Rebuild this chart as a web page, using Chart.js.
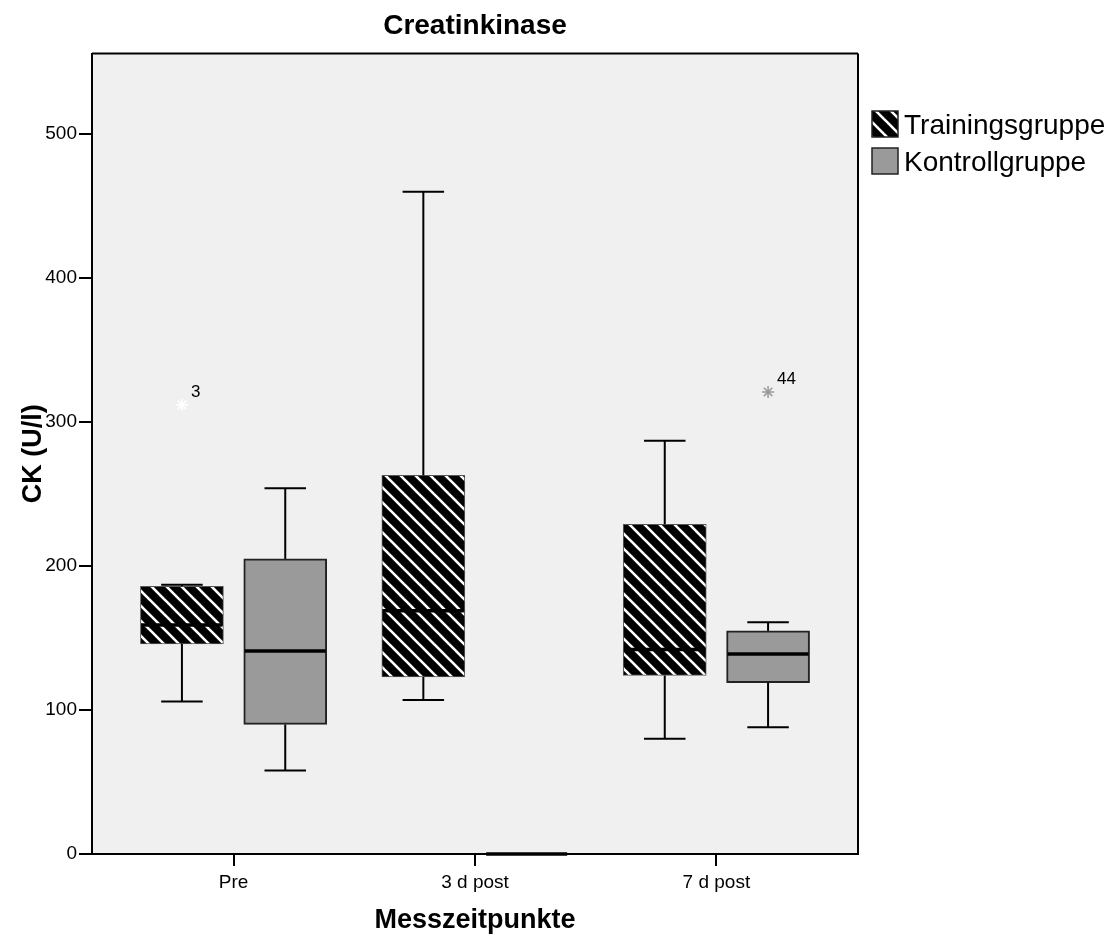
<!DOCTYPE html>
<html>
<head>
<meta charset="utf-8">
<title>Creatinkinase</title>
<script src="https://cdn.jsdelivr.net/npm/chart.js@4.4.1/dist/chart.umd.min.js"></script>
<style>
  html, body { margin: 0; padding: 0; background: #fff; }
  #wrap { width: 1115px; height: 937px; position: relative; }
</style>
</head>
<body>
<div id="wrap"><canvas id="myChart"></canvas></div>
<script>
const categories = ["Pre", "3 d post", "7 d post"];
const groupNames = ["Trainingsgruppe", "Kontrollgruppe"];
const yTicks = [0, 100, 200, 300, 400, 500];

// Trainingsgruppe (min, Q1, median, Q3, max per Messzeitpunkt)
const trainMin = [106, 107, 80];
const trainQ1 = [146, 123, 124];
const trainMedian = [159, 169, 142];
const trainQ3 = [186, 263, 229];
const trainMax = [187, 460, 287];
const trainOutliers = [312, null, null];
const trainOutlierIds = ["3", "", ""];

// Kontrollgruppe
const ctrlMin = [58, 0, 88];
const ctrlQ1 = [90, 0, 119];
const ctrlMedian = [141, 0, 139];
const ctrlQ3 = [205, 0, 155];
const ctrlMax = [254, 0, 161];
const ctrlOutliers = [null, null, 321];
const ctrlOutlierIds = ["", "", "44"];

const groupShift = 0.214; // box offset from category centre, in category units

Chart.defaults.font.family = "'Liberation Sans', Arial, sans-serif";
Chart.defaults.color = "#000";

function makeHatch() {
  const c = document.createElement("canvas");
  c.width = 15;
  c.height = 15;
  const g = c.getContext("2d");
  g.fillStyle = "#000";
  g.fillRect(0, 0, 15, 15);
  g.strokeStyle = "#fff";
  g.lineWidth = 2.6;
  for (const dx of [-15, 0, 15]) {
    g.beginPath();
    g.moveTo(dx - 2, -2);
    g.lineTo(dx + 17, 17);
    g.stroke();
  }
  return g.createPattern(c, "repeat");
}
const hatch = makeHatch();

const boxSets = [
  { name: groupNames[0], min: trainMin, q1: trainQ1, med: trainMedian, q3: trainQ3, max: trainMax,
    out: trainOutliers, ids: trainOutlierIds, shift: -groupShift, fill: hatch, border: "#555", bw: 1, star: "#ffffff" },
  { name: groupNames[1], min: ctrlMin, q1: ctrlQ1, med: ctrlMedian, q3: ctrlQ3, max: ctrlMax,
    out: ctrlOutliers, ids: ctrlOutlierIds, shift: groupShift, fill: "#9a9a9a", border: "#222", bw: 2, star: "#9a9a9a" },
];

const datasets = [];
boxSets.forEach((s) => {
  datasets.push({
    type: "bar",
    label: s.name,
    data: categories.map((c, i) => ({ x: i + s.shift, y: [s.q1[i], s.q3[i]] })),
    backgroundColor: s.fill,
    borderColor: s.border,
    borderWidth: s.bw,
    borderSkipped: false,
    grouped: false,
    barPercentage: 1,
    categoryPercentage: 1,
    maxBarThickness: 83,
  });
});
boxSets.forEach((s) => {
  const pts = [];
  const ids = [];
  s.out.forEach((v, i) => {
    if (v !== null) {
      pts.push({ x: i + s.shift, y: v });
      ids.push(s.ids[i]);
    }
  });
  datasets.push({
    type: "scatter",
    label: s.name + " Ausreißer",
    data: pts,
    outlierIds: ids,
    pointStyle: "star",
    radius: 6,
    borderColor: s.star,
    backgroundColor: s.star,
    borderWidth: 1.5,
  });
});

function line(ctx, x1, y1, x2, y2) {
  ctx.beginPath();
  ctx.moveTo(x1, y1);
  ctx.lineTo(x2, y2);
  ctx.stroke();
}

const boxPlotPlugin = {
  id: "boxplot",
  beforeDraw(chart) {
    const { ctx, chartArea: a } = chart;
    ctx.save();
    ctx.fillStyle = "#f0f0f0";
    ctx.fillRect(a.left, a.top, a.width, a.height);
    ctx.restore();
  },
  afterDatasetsDraw(chart) {
    const { ctx } = chart;
    const y = chart.scales.y;
    ctx.save();
    boxSets.forEach((s, d) => {
      const meta = chart.getDatasetMeta(d);
      meta.data.forEach((bar, i) => {
        const cx = bar.x;
        const half = bar.width / 2;
        const cap = bar.width / 4;
        const yMin = y.getPixelForValue(s.min[i]);
        const yMax = y.getPixelForValue(s.max[i]);
        const yQ1 = y.getPixelForValue(s.q1[i]);
        const yQ3 = y.getPixelForValue(s.q3[i]);
        const yMed = y.getPixelForValue(s.med[i]);
        ctx.strokeStyle = "#000";
        ctx.lineWidth = 2;
        line(ctx, cx, yQ3, cx, yMax);
        line(ctx, cx - cap, yMax, cx + cap, yMax);
        line(ctx, cx, yQ1, cx, yMin);
        line(ctx, cx - cap, yMin, cx + cap, yMin);
        ctx.lineWidth = 3.5;
        line(ctx, cx - half + 1, yMed, cx + half - 1, yMed);
      });
    });
    // outlier case numbers
    ctx.font = "17px 'Liberation Sans', Arial, sans-serif";
    ctx.fillStyle = "#000";
    ctx.textAlign = "left";
    ctx.textBaseline = "alphabetic";
    chart.data.datasets.forEach((ds, d) => {
      if (!ds.outlierIds) return;
      chart.getDatasetMeta(d).data.forEach((pt, k) => {
        ctx.fillText(ds.outlierIds[k], pt.x + 9, pt.y - 8);
      });
    });
    ctx.restore();
  },
  afterDraw(chart) {
    const { ctx, chartArea: a } = chart;
    ctx.save();
    // frame top and right
    ctx.strokeStyle = "#000";
    ctx.lineWidth = 2;
    line(ctx, a.left, a.top, a.right, a.top);
    line(ctx, a.right, a.top, a.right, a.bottom);
    // legend
    const lx = a.right + 14;
    ctx.font = "28px 'Liberation Sans', Arial, sans-serif";
    ctx.textBaseline = "middle";
    ctx.textAlign = "left";
    boxSets.forEach((s, k) => {
      const ly = 111 + k * 37;
      ctx.fillStyle = s.fill;
      ctx.fillRect(lx, ly, 26, 26);
      ctx.lineWidth = 1.5;
      ctx.strokeStyle = "#222";
      ctx.strokeRect(lx, ly, 26, 26);
      ctx.fillStyle = "#000";
      ctx.fillText(s.name, lx + 32, ly + 15);
    });
    ctx.restore();
  },
};

new Chart(document.getElementById("myChart"), {
  data: { datasets: datasets },
  plugins: [boxPlotPlugin],
  options: {
    responsive: true,
    maintainAspectRatio: false,
    animation: false,
    layout: { padding: { left: 0, right: 257, top: 0, bottom: 0 } },
    plugins: {
      legend: { display: false },
      tooltip: { enabled: false },
      title: {
        display: true,
        text: "Creatinkinase",
        fullSize: false,
        color: "#000",
        font: { size: 28, weight: "bold" },
        padding: { top: 9, bottom: 11 },
      },
    },
    scales: {
      x: {
        type: "linear",
        min: -0.5865,
        max: 2.5865,
        offset: false,
        afterFit: (s) => { s.height = 83; },
        afterBuildTicks: (s) => { s.ticks = categories.map((c, i) => ({ value: i })); },
        ticks: {
          font: { size: 19 },
          color: "#000",
          padding: 5,
          autoSkip: false,
          maxRotation: 0,
          callback: (v) => categories[v],
        },
        grid: { drawOnChartArea: false, drawTicks: true, tickLength: 12, color: "#000", lineWidth: 2, offset: false },
        border: { display: true, color: "#000", width: 2 },
        title: {
          display: true,
          text: "Messzeitpunkte",
          color: "#000",
          font: { size: 27, weight: "bold" },
          padding: { top: 0, bottom: 0 },
        },
      },
      y: {
        type: "linear",
        min: 0,
        max: 556,
        afterFit: (s) => { s.width = 92; },
        afterBuildTicks: (s) => { s.ticks = yTicks.map((v) => ({ value: v })); },
        ticks: { font: { size: 19 }, color: "#000", padding: 2 },
        grid: { drawOnChartArea: false, drawTicks: true, tickLength: 13, color: "#000", lineWidth: 2 },
        border: { display: true, color: "#000", width: 2 },
        title: {
          display: true,
          text: "CK (U/l)",
          color: "#000",
          font: { size: 27, weight: "bold" },
          padding: { top: 17, bottom: 0 },
        },
      },
    },
  },
});
</script>
</body>
</html>
